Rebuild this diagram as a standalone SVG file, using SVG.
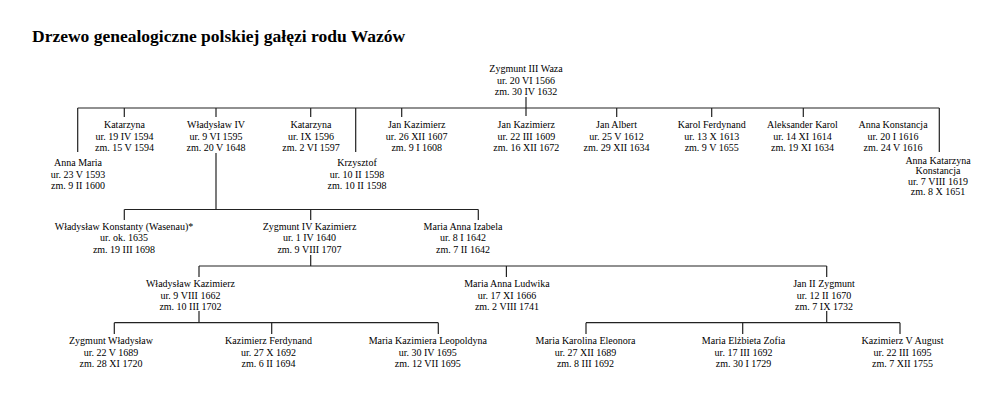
<svg xmlns="http://www.w3.org/2000/svg" width="1000" height="401" viewBox="0 0 1000 401">
<style>
.t{font-family:"Liberation Serif","Times New Roman",serif;font-size:10px;fill:#000;text-anchor:middle}
.title{font-family:"Liberation Serif","Times New Roman",serif;font-size:17.5px;font-weight:bold;fill:#000}
.c{stroke:#222;stroke-width:1.2;fill:none}
</style>
<rect width="1000" height="401" fill="#fff"/>
<text class="title" x="32" y="41.5">Drzewo genealogiczne polskiej gałęzi rodu Wazów</text>
<g id="connectors" class="c">
<path d="M526 97V108"/>
<path d="M77.7 108H939.3"/>
<path d="M77.7 108V152M355.7 108V152M939.3 108V152"/>
<path d="M124.3 108V117M216 108V117M310.7 108V117M401.7 108V117M526 108V116M616.7 108V117M711.7 108V117M803.3 108V117"/>
<path d="M216 153V209.5"/>
<path d="M124.3 209.5H478.3"/>
<path d="M124.3 209.5V220M310.7 209.5V220M478.3 209.5V220"/>
<path d="M310.7 255V266"/>
<path d="M199 266H826.7"/>
<path d="M199 266V277M506.4 266V277M826.7 266V277"/>
<path d="M199 311V322.7M826.7 311V322.7"/>
<path d="M114.3 322.7H438.3M586 322.7H900"/>
<path d="M114.3 322.7V334M271.7 322.7V334M438.3 322.7V334M586 322.7V334M742.7 322.7V334M900 322.7V334"/>
</g>
<g id="zygmunt3"><text class="t" x="526" y="72.3"><tspan x="526">Zygmunt III Waza</tspan><tspan x="526" dy="11.2">ur. 20 VI 1566</tspan><tspan x="526" dy="11.2">zm. 30 IV 1632</tspan></text></g>
<g id="annamaria"><text class="t" x="78" y="166.3"><tspan x="78">Anna Maria</tspan><tspan x="78" dy="11.2">ur. 23 V 1593</tspan><tspan x="78" dy="11.2">zm. 9 II 1600</tspan></text></g>
<g id="katarzyna1"><text class="t" x="124.5" y="128.3"><tspan x="124.5">Katarzyna</tspan><tspan x="124.5" dy="11.2">ur. 19 IV 1594</tspan><tspan x="124.5" dy="11.2">zm. 15 V 1594</tspan></text></g>
<g id="wladyslaw4"><text class="t" x="216" y="128.3"><tspan x="216">Władysław IV</tspan><tspan x="216" dy="11.2">ur. 9 VI 1595</tspan><tspan x="216" dy="11.2">zm. 20 V 1648</tspan></text></g>
<g id="katarzyna2"><text class="t" x="311" y="128.3"><tspan x="311">Katarzyna</tspan><tspan x="311" dy="11.2">ur. IX 1596</tspan><tspan x="311" dy="11.2">zm. 2 VI 1597</tspan></text></g>
<g id="krzysztof"><text class="t" x="357" y="166.3"><tspan x="357">Krzysztof</tspan><tspan x="357" dy="11.2">ur. 10 II 1598</tspan><tspan x="357" dy="11.2">zm. 10 II 1598</tspan></text></g>
<g id="jankazimierz1"><text class="t" x="416.7" y="128.3"><tspan x="416.7">Jan Kazimierz</tspan><tspan x="416.7" dy="11.2">ur. 26 XII 1607</tspan><tspan x="416.7" dy="11.2">zm. 9 I 1608</tspan></text></g>
<g id="jankazimierz2"><text class="t" x="526.3" y="128.3"><tspan x="526.3">Jan Kazimierz</tspan><tspan x="526.3" dy="11.2">ur. 22 III 1609</tspan><tspan x="526.3" dy="11.2">zm. 16 XII 1672</tspan></text></g>
<g id="janalbert"><text class="t" x="616.5" y="128.3"><tspan x="616.5">Jan Albert</tspan><tspan x="616.5" dy="11.2">ur. 25 V 1612</tspan><tspan x="616.5" dy="11.2">zm. 29 XII 1634</tspan></text></g>
<g id="karolferdynand"><text class="t" x="711.7" y="128.3"><tspan x="711.7">Karol Ferdynand</tspan><tspan x="711.7" dy="11.2">ur. 13 X 1613</tspan><tspan x="711.7" dy="11.2">zm. 9 V 1655</tspan></text></g>
<g id="aleksanderkarol"><text class="t" x="802.5" y="128.3"><tspan x="802.5">Aleksander Karol</tspan><tspan x="802.5" dy="11.2">ur. 14 XI 1614</tspan><tspan x="802.5" dy="11.2">zm. 19 XI 1634</tspan></text></g>
<g id="annakonstancja"><text class="t" x="893" y="128.3"><tspan x="893">Anna Konstancja</tspan><tspan x="893" dy="11.2">ur. 20 I 1616</tspan><tspan x="893" dy="11.2">zm. 24 V 1616</tspan></text></g>
<g id="annakatarzyna"><text class="t" x="938" y="163.8"><tspan x="938">Anna Katarzyna</tspan><tspan x="938" dy="10.5">Konstancja</tspan><tspan x="938" dy="10.5">ur. 7 VIII 1619</tspan><tspan x="938" dy="10.5">zm. 8 X 1651</tspan></text></g>
<g id="wladyslawkonstanty"><text class="t" x="124" y="229.8"><tspan x="124">Władysław Konstanty (Wasenau)*</tspan><tspan x="124" dy="11.4">ur. ok. 1635</tspan><tspan x="124" dy="11.4">zm. 19 III 1698</tspan></text></g>
<g id="zygmunt4"><text class="t" x="309.5" y="229.8"><tspan x="309.5">Zygmunt IV Kazimierz</tspan><tspan x="309.5" dy="11.4">ur. 1 IV 1640</tspan><tspan x="309.5" dy="11.4">zm. 9 VIII 1707</tspan></text></g>
<g id="mariaannaizabela"><text class="t" x="463" y="229.8"><tspan x="463">Maria Anna Izabela</tspan><tspan x="463" dy="11.4">ur. 8 I 1642</tspan><tspan x="463" dy="11.4">zm. 7 II 1642</tspan></text></g>
<g id="wladyslawkazimierz"><text class="t" x="190.5" y="287.3"><tspan x="190.5">Władysław Kazimierz</tspan><tspan x="190.5" dy="11.2">ur. 9 VIII 1662</tspan><tspan x="190.5" dy="11.2">zm. 10 III 1702</tspan></text></g>
<g id="mariaannaludwika"><text class="t" x="507" y="287.3"><tspan x="507">Maria Anna Ludwika</tspan><tspan x="507" dy="11.2">ur. 17 XI 1666</tspan><tspan x="507" dy="11.2">zm. 2 VIII 1741</tspan></text></g>
<g id="jan2zygmunt"><text class="t" x="824" y="287.3"><tspan x="824">Jan II Zygmunt</tspan><tspan x="824" dy="11.2">ur. 12 II 1670</tspan><tspan x="824" dy="11.2">zm. 7 IX 1732</tspan></text></g>
<g id="zygmuntwladyslaw"><text class="t" x="111" y="344.3"><tspan x="111">Zygmunt Władysław</tspan><tspan x="111" dy="11.2">ur. 22 V 1689</tspan><tspan x="111" dy="11.2">zm. 28 XI 1720</tspan></text></g>
<g id="kazimierzferdynand"><text class="t" x="268.5" y="344.3"><tspan x="268.5">Kazimierz Ferdynand</tspan><tspan x="268.5" dy="11.2">ur. 27 X 1692</tspan><tspan x="268.5" dy="11.2">zm. 6 II 1694</tspan></text></g>
<g id="mariakazimiera"><text class="t" x="427.8" y="344.3"><tspan x="427.8">Maria Kazimiera Leopoldyna</tspan><tspan x="427.8" dy="11.2">ur. 30 IV 1695</tspan><tspan x="427.8" dy="11.2">zm. 12 VII 1695</tspan></text></g>
<g id="mariakarolina"><text class="t" x="585.5" y="344.3"><tspan x="585.5">Maria Karolina Eleonora</tspan><tspan x="585.5" dy="11.2">ur. 27 XII 1689</tspan><tspan x="585.5" dy="11.2">zm. 8 III 1692</tspan></text></g>
<g id="mariaelzbieta"><text class="t" x="743.5" y="344.3"><tspan x="743.5">Maria Elżbieta Zofia</tspan><tspan x="743.5" dy="11.2">ur. 17 III 1692</tspan><tspan x="743.5" dy="11.2">zm. 30 I 1729</tspan></text></g>
<g id="kazimierzvaugust"><text class="t" x="902.5" y="344.3"><tspan x="902.5">Kazimierz V August</tspan><tspan x="902.5" dy="11.2">ur. 22 III 1695</tspan><tspan x="902.5" dy="11.2">zm. 7 XII 1755</tspan></text></g>
</svg>
